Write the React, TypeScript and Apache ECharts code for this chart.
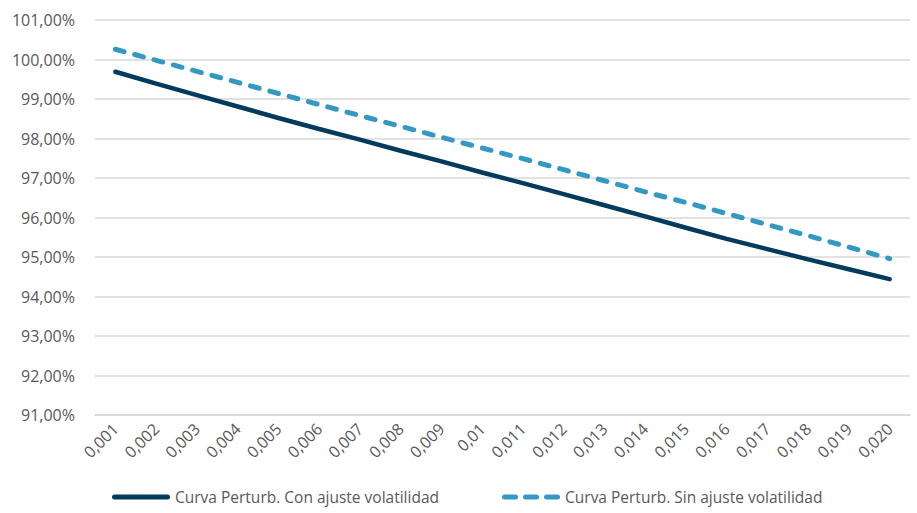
import React, { useEffect, useRef } from "react";
import * as echarts from "echarts";

const categories = ["0,001","0,002","0,003","0,004","0,005","0,006","0,007","0,008","0,009","0,01","0,011","0,012","0,013","0,014","0,015","0,016","0,017","0,018","0,019","0,020"];
const conAjuste = [99.69,99.39,99.10,98.81,98.52,98.24,97.97,97.69,97.42,97.14,96.87,96.59,96.31,96.03,95.74,95.46,95.20,94.94,94.69,94.44];
const sinAjuste = [100.26,99.98,99.70,99.42,99.14,98.86,98.58,98.31,98.03,97.76,97.49,97.21,96.93,96.65,96.38,96.10,95.82,95.54,95.25,94.96];
const seriesNames = ["Curva Perturb. Con ajuste volatilidad", "Curva Perturb. Sin ajuste volatilidad"];

const solidIcon = "path://M2.5,0H55.5A2.5,2.5 0 0 1 55.5,5H2.5A2.5,2.5 0 0 1 2.5,0Z";
const dashIcon =
  "path://M2.5,0H13.5A2.5,2.5 0 0 1 13.5,5H2.5A2.5,2.5 0 0 1 2.5,0Z" +
  "M23.5,0H34.5A2.5,2.5 0 0 1 34.5,5H23.5A2.5,2.5 0 0 1 23.5,0Z" +
  "M44.5,0H55.5A2.5,2.5 0 0 1 55.5,5H44.5A2.5,2.5 0 0 1 44.5,0Z";

export default function App() {
  const ref = useRef<HTMLDivElement>(null);
  useEffect(() => {
    document.body.style.margin = "0";
    document.body.style.overflow = "hidden";
    const chart = echarts.init(ref.current!, null, { renderer: "svg" });
    const font = "Open Sans";
    chart.setOption({
      animation: false,
      grid: { left: 95, right: 7, top: 20, bottom: 98, containLabel: false },
      legend: {
        bottom: 3,
        left: 107,
        itemWidth: 58,
        itemHeight: 5,
        itemGap: 63,
        textStyle: { color: "#595959", fontSize: 15.5, fontFamily: font },
        data: [
          { name: seriesNames[0], icon: solidIcon },
          { name: seriesNames[1], icon: dashIcon },
        ],
      },
      xAxis: {
        type: "category",
        data: categories,
        boundaryGap: true,
        axisLine: { show: true, lineStyle: { color: "#D9D9D9", width: 1.5 } },
        axisTick: { show: false },
        axisLabel: { rotate: 45, color: "#595959", fontSize: 16, fontFamily: font, interval: 0, margin: 11 },
      },
      yAxis: {
        type: "value",
        min: 91,
        max: 101,
        interval: 1,
        axisLine: { show: false },
        axisTick: { show: false },
        splitLine: { lineStyle: { color: "#D9D9D9", width: 1.5 } },
        axisLabel: {
          color: "#595959",
          fontSize: 16,
          fontFamily: font,
          margin: 20,
          formatter: (v: number) => v.toFixed(2).replace(".", ",") + "%",
        },
      },
      series: [
        {
          name: seriesNames[0],
          type: "line",
          data: conAjuste,
          symbol: "none",
          lineStyle: { color: "#003A5D", width: 4.5, cap: "round" },
          itemStyle: { color: "#003A5D" },
        },
        {
          name: seriesNames[1],
          type: "line",
          data: sinAjuste,
          symbol: "none",
          lineStyle: { color: "#3399C4", width: 5, type: [9, 11], cap: "round" },
          itemStyle: { color: "#3399C4" },
        },
      ],
    });
    return () => chart.dispose();
  }, []);
  return <div ref={ref} style={{ width: 917, height: 513 }} />;
}
